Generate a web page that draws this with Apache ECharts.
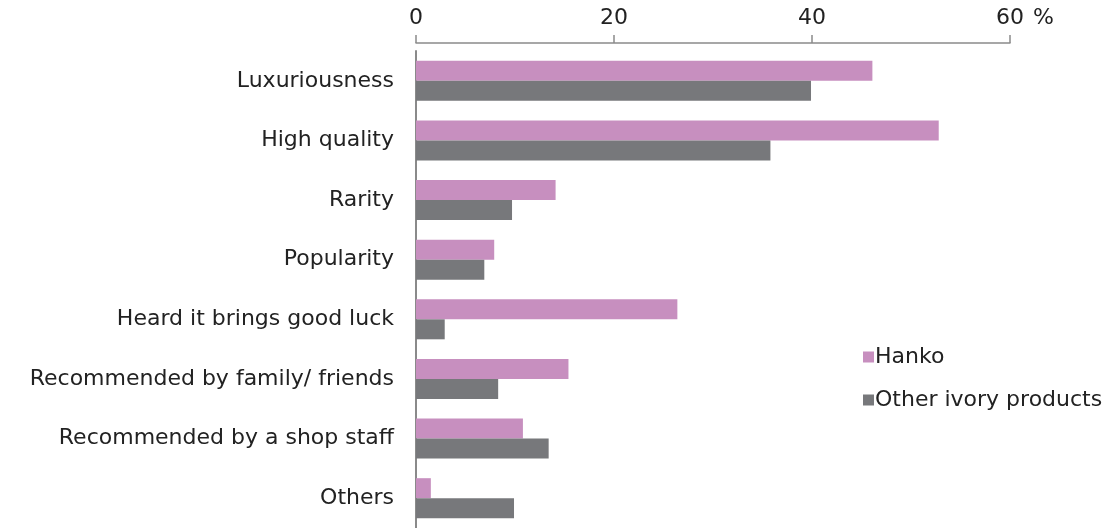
<!DOCTYPE html>
<html>
<head>
<meta charset="utf-8">
<script src="https://cdn.jsdelivr.net/npm/echarts@6/dist/echarts.min.js"></script>
<style>
  html, body { margin: 0; padding: 0; background: #ffffff; }
  #chart { width: 1116px; height: 528px; }
</style>
</head>
<body>
<div id="chart"></div>
<script>
// Reasons for buying, share of respondents (%)
const categories = [
  'Luxuriousness',
  'High quality',
  'Rarity',
  'Popularity',
  'Heard it brings good luck',
  'Recommended by family/ friends',
  'Recommended by a shop staff',
  'Others'
];
const hanko = [46.1, 52.8, 14.1, 7.9, 26.4, 15.4, 10.8, 1.5];
const otherIvory = [39.9, 35.8, 9.7, 6.9, 2.9, 8.3, 13.4, 9.9];
const xTicks = [0, 20, 40, 60];
const unitLabel = '%';

const FONT = '"DejaVu Sans", sans-serif';
const FS = 22;
const textColor = '#222222';
const axisColor = '#8a8a8a';

const chart = echarts.init(document.getElementById('chart'));
chart.setOption({
  animation: false,
  textStyle: { fontFamily: FONT },
  grid: { left: 416, right: 106, top: 51, bottom: -3, containLabel: false },
  legend: {
    orient: 'vertical',
    left: 858,
    top: 341,
    itemWidth: 11,
    itemHeight: 11,
    itemGap: 21,
    icon: 'rect',
    textStyle: { fontSize: FS, color: textColor, fontFamily: FONT, padding: [0, 0, 0, -4] },
    data: ['Hanko', 'Other ivory products']
  },
  xAxis: {
    type: 'value',
    position: 'top',
    offset: 8,
    min: xTicks[0],
    max: xTicks[xTicks.length - 1],
    interval: xTicks[1] - xTicks[0],
    splitLine: { show: false },
    axisLine: { show: true, lineStyle: { color: axisColor, width: 1.5 } },
    axisTick: { show: true, length: 8, lineStyle: { color: axisColor, width: 1.5 } },
    axisLabel: {
      fontSize: FS,
      color: textColor,
      margin: 14,
      fontFamily: FONT,
      // keep the number centred on its tick; the unit hangs to the right of the last one
      formatter: function (v) {
        const unit = v === xTicks[xTicks.length - 1] ? ' ' + unitLabel : '';
        return '{p|}{v|' + v + '}{u|' + unit + '}';
      },
      rich: {
        p: { width: 32, fontSize: FS, fontFamily: FONT },
        v: { fontSize: FS, color: textColor, fontFamily: FONT },
        u: { width: 32, align: 'left', fontSize: FS, color: textColor, fontFamily: FONT }
      }
    }
  },
  yAxis: {
    type: 'category',
    inverse: true,
    data: categories,
    axisLine: { show: true, lineStyle: { color: axisColor, width: 2 } },
    axisTick: { show: false },
    axisLabel: { fontSize: FS, color: textColor, margin: 22, padding: [6, 0, 0, 0], fontFamily: FONT }
  },
  series: [
    {
      name: 'Hanko',
      type: 'bar',
      data: hanko,
      barWidth: 20,
      barGap: '0%',
      itemStyle: { color: '#c78fbf' }
    },
    {
      name: 'Other ivory products',
      type: 'bar',
      data: otherIvory,
      barWidth: 20,
      barGap: '0%',
      itemStyle: { color: '#77787b' }
    }
  ]
});
</script>
</body>
</html>
